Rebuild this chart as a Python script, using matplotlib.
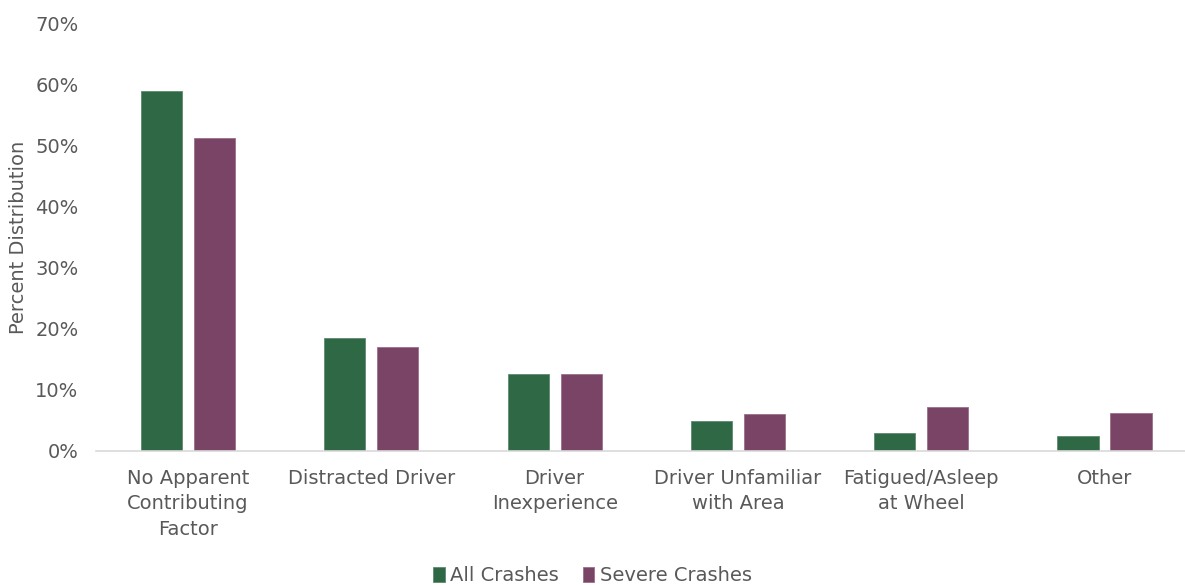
import numpy as np
import matplotlib.pyplot as plt

# chart data
categories = ["No Apparent\nContributing\nFactor", "Distracted Driver", "Driver\nInexperience",
              "Driver Unfamiliar\nwith Area", "Fatigued/Asleep\nat Wheel", "Other"]
all_crashes = [58.9, 18.4, 12.5, 4.8, 2.9, 2.4]
severe_crashes = [51.3, 16.9, 12.5, 6.0, 7.1, 6.1]
yticks = [0, 10, 20, 30, 40, 50, 60, 70]

green = "#2E6844"
purple = "#794466"
text_color = "#595959"

plt.rcParams['font.family'] = ['DejaVu Sans']

fig = plt.figure(figsize=(11.85, 5.85), dpi=100)
ax = fig.add_axes([0.0814, 0.2299, 0.928, 0.7299])

x = np.arange(len(categories))
width = 0.224
offset = 0.1446
ax.bar(x - offset, all_crashes, width, color=green, edgecolor="#5f8a6e", linewidth=0.6, label="All Crashes")
ax.bar(x + offset, severe_crashes, width, color=purple, edgecolor="#9a6f8b", linewidth=0.6, label="Severe Crashes")

ax.set_xlim(-0.5, len(categories) - 0.5)
ax.set_ylim(0, 70)
ax.set_yticks(yticks)
ax.set_yticklabels([f"{t}%" for t in yticks], fontsize=14, color=text_color)
ax.set_xticks(x)
ax.set_xticklabels(categories, fontsize=14, color=text_color, linespacing=1.45)
ax.tick_params(axis="both", length=0)
ax.tick_params(axis="x", pad=13)
ax.tick_params(axis="y", pad=13)

for s in ["top", "right", "left"]:
    ax.spines[s].set_visible(False)
ax.spines["bottom"].set_color("#D9D9D9")
ax.spines["bottom"].set_linewidth(1.2)

ax.set_ylabel("Percent Distribution", fontsize=14, color=text_color, labelpad=5)

fig.legend(loc="lower center", bbox_to_anchor=(0.5, -0.03), ncol=2, frameon=False,
           fontsize=14, labelcolor=text_color, handlelength=0.6, handleheight=0.8,
           handletextpad=0.3, columnspacing=1.2)

fig.savefig("out.png", dpi=100)
